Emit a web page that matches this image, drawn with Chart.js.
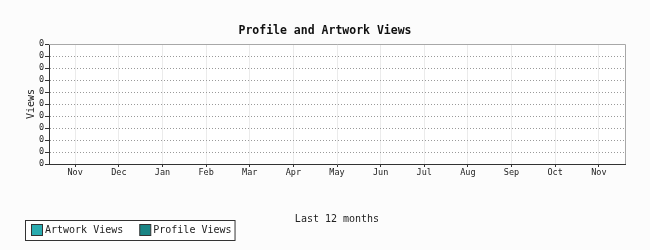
<!DOCTYPE html>
<html>
<head>
<meta charset="utf-8">
<script src="https://cdn.jsdelivr.net/npm/chart.js@4"></script>
<style>
  html, body { margin: 0; padding: 0; background: #fcfcfc; }
  #wrap { width: 650px; height: 250px; }
</style>
</head>
<body>
<div id="wrap"><canvas id="viewsChart" width="650" height="250"></canvas></div>
<script>
// chart data
const chartTitle = 'Profile and Artwork Views';
const xTitle = 'Last 12 months';
const yTitle = 'Views';
const monthLabels = ['Nov', 'Dec', 'Jan', 'Feb', 'Mar', 'Apr', 'May', 'Jun', 'Jul', 'Aug', 'Sep', 'Oct', 'Nov'];
const yTickLabels = ['0', '0', '0', '0', '0', '0', '0', '0', '0', '0', '0'];
const artworkViews = [0, 0, 0, 0, 0, 0, 0, 0, 0, 0, 0, 0, 0];
const profileViews = [0, 0, 0, 0, 0, 0, 0, 0, 0, 0, 0, 0, 0];

const MONO = '"DejaVu Sans Mono", "Liberation Mono", monospace';
const DARK = '#333333';

function toPoints(values) {
    return values.map((v, i) => ({x: i, y: v}));
}

// background, borders, title and the boxed legend at the bottom left
const framePlugin = {
    id: 'frame',
    beforeDraw(chart) {
        const {ctx, chartArea: a} = chart;
        ctx.save();
        ctx.fillStyle = '#fcfcfc';
        ctx.fillRect(0, 0, chart.width, chart.height);
        ctx.fillStyle = '#ffffff';
        ctx.fillRect(a.left, a.top, a.right - a.left, a.bottom - a.top);
        ctx.restore();
    },
    afterDraw(chart) {
        const {ctx, chartArea: a} = chart;
        ctx.save();
        // top and right frame
        ctx.strokeStyle = '#a8a8a8';
        ctx.lineWidth = 1;
        ctx.beginPath();
        ctx.moveTo(Math.round(a.left), Math.round(a.top) + 0.5);
        ctx.lineTo(Math.round(a.right) + 0.5, Math.round(a.top) + 0.5);
        ctx.lineTo(Math.round(a.right) + 0.5, Math.round(a.bottom));
        ctx.stroke();

        // title
        ctx.fillStyle = '#111111';
        ctx.font = 'bold 11.5px ' + MONO;
        ctx.textAlign = 'center';
        ctx.textBaseline = 'middle';
        ctx.fillText(chartTitle, 325, 31);

        // legend
        ctx.font = '10px ' + MONO;
        ctx.textAlign = 'left';
        const sets = chart.data.datasets;
        let x = 31;
        const positions = sets.map((ds) => {
            const p = x;
            x += 14 + ctx.measureText(ds.label).width + 16;
            return p;
        });
        const boxRight = x - 16 + 3;
        ctx.fillStyle = '#ffffff';
        ctx.fillRect(25.5, 220.5, boxRight - 25, 20);
        ctx.strokeStyle = DARK;
        ctx.strokeRect(25.5, 220.5, boxRight - 25, 20);
        sets.forEach((ds, i) => {
            const px = positions[i];
            ctx.fillStyle = ds.backgroundColor;
            ctx.fillRect(px + 0.5, 224.5, 11, 11);
            ctx.strokeStyle = DARK;
            ctx.strokeRect(px + 0.5, 224.5, 11, 11);
            ctx.fillStyle = '#222222';
            ctx.fillText(ds.label, px + 14, 230.5);
        });
        ctx.restore();
    }
};

const ctx = document.getElementById('viewsChart').getContext('2d');
const viewsChart = new Chart(ctx, {
    type: 'bar',
    data: {
        datasets: [
            {
                label: 'Artwork Views',
                data: toPoints(artworkViews),
                backgroundColor: '#2aacb0',
                borderWidth: 0,
            },
            {
                label: 'Profile Views',
                data: toPoints(profileViews),
                backgroundColor: '#1a8585',
                borderWidth: 0,
            },
        ]
    },
    options: {
        responsive: false,
        animation: false,
        events: [],
        layout: {
            padding: {left: 0, top: 44, right: 25, bottom: 0}
        },
        plugins: {
            legend: {display: false},
            title: {display: false},
            tooltip: {enabled: false},
        },
        scales: {
            x: {
                type: 'linear',
                min: -0.6,
                max: 12.6,
                offset: false,
                afterBuildTicks: (scale) => {
                    scale.ticks = monthLabels.map((_, i) => ({value: i}));
                },
                afterFit: (scale) => { scale.height = 86; },
                grid: {
                    offset: false,
                    color: '#ebebeb',
                    tickColor: DARK,
                    tickLength: 3,
                },
                border: {color: DARK, width: 1},
                ticks: {
                    autoSkip: false,
                    maxRotation: 0,
                    padding: 1,
                    color: '#222222',
                    font: {family: MONO, size: 8.5},
                    callback: (value, index) => monthLabels[index],
                },
                title: {
                    display: true,
                    text: xTitle,
                    color: '#222222',
                    font: {family: MONO, size: 10},
                    padding: {top: 0, bottom: 25},
                },
            },
            y: {
                type: 'linear',
                min: 0,
                max: 1,
                afterBuildTicks: (scale) => {
                    scale.ticks = yTickLabels.map((_, i) => ({value: i / (yTickLabels.length - 1)}));
                },
                afterFit: (scale) => { scale.width = 49; },
                grid: {
                    color: '#9a9a9a',
                    tickColor: DARK,
                    tickLength: 4,
                },
                // in v4 the dash here styles the grid lines, the axis line stays solid
                border: {color: DARK, width: 1, dash: [1, 2]},
                ticks: {
                    autoSkip: false,
                    padding: 1,
                    color: '#222222',
                    font: {family: MONO, size: 8.5},
                    callback: (value, index) => yTickLabels[index],
                },
                title: {
                    display: true,
                    text: yTitle,
                    color: '#222222',
                    font: {family: MONO, size: 10},
                    padding: {top: 25, bottom: 0},
                },
            },
        },
    },
    plugins: [framePlugin],
});
</script>
</body>
</html>
